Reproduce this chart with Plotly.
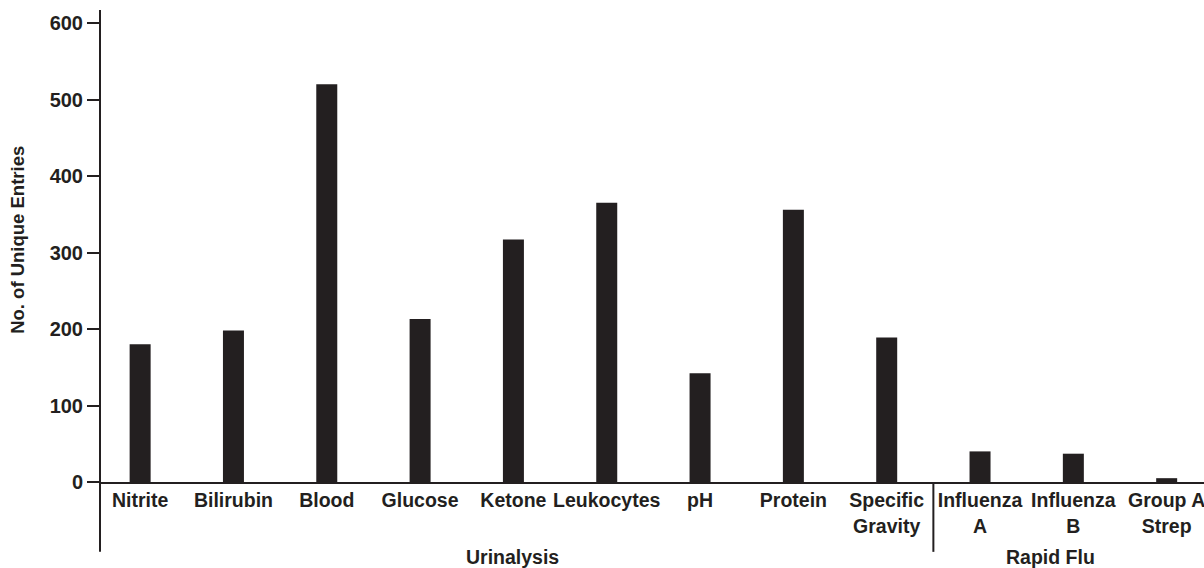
import plotly.graph_objects as go

categories = ["Nitrite", "Bilirubin", "Blood", "Glucose", "Ketone", "Leukocytes", "pH",
              "Protein", "Specific<br>Gravity", "Influenza<br>A", "Influenza<br>B", "Group A<br>Strep"]
values = [180, 198, 520, 213, 317, 365, 142, 356, 189, 40, 37, 5]
groups = ["Urinalysis", "Rapid Flu"]
group_centers = [3.99, 9.76]
y_ticks = [0, 100, 200, 300, 400, 500, 600]

ink = "#231f20"
font_family = "Liberation Sans, Arial, Helvetica, sans-serif"

x_pos = list(range(len(categories)))

fig = go.Figure(go.Bar(x=x_pos, y=values, marker=dict(color=ink, line=dict(width=0)), width=0.225))

fig.update_layout(
    width=1204, height=568,
    margin=dict(l=100, r=0, t=10, b=86, autoexpand=False),
    plot_bgcolor="white", paper_bgcolor="white",
    showlegend=False,
    font=dict(family=font_family, color=ink, size=20, weight="bold"),
)
fig.update_xaxes(
    range=[-0.43, 11.4], tickvals=x_pos, ticktext=categories, automargin=False,
    showline=True, linecolor=ink, linewidth=2, ticks="", showgrid=False, zeroline=False,
    tickfont=dict(size=19.5, weight="bold", color=ink), tickangle=0,
    ticklabeloverflow="allow",
)
fig.update_yaxes(
    range=[0, 617], tickvals=y_ticks, showline=False, ticks="outside", ticklen=12,
    tickwidth=2, tickcolor=ink, showgrid=False, zeroline=False, automargin=False,
    tickfont=dict(size=20, weight="bold", color=ink),
)
# y axis title
fig.add_annotation(x=-0.0743, y=0.513, xref="paper", yref="paper", text="No. of Unique Entries",
                   textangle=-90, showarrow=False, xanchor="center", yanchor="middle",
                   font=dict(size=18.5, weight="bold", color=ink))
# y axis line extended below the baseline
fig.add_shape(type="line", xref="paper", yref="paper", x0=0, x1=0, y0=-0.148, y1=1,
              line=dict(color=ink, width=2))
# group separator
fig.add_shape(type="line", xref="x", yref="paper", x0=8.5, x1=8.5, y0=-0.148, y1=0,
              line=dict(color=ink, width=2))
for g, c in zip(groups, group_centers):
    fig.add_annotation(x=c, y=-0.159, xref="x", yref="paper", text=g, showarrow=False,
                       yanchor="middle", font=dict(size=19.5, weight="bold", color=ink))

fig.write_html("out.html", config={"displayModeBar": False},
               post_script="document.body.style.margin='0';document.body.style.overflow='hidden';")
